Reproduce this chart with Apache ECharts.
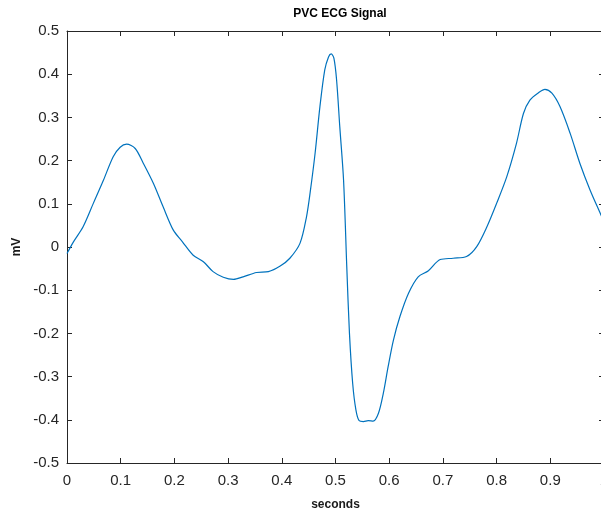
<!DOCTYPE html>
<html>
<head>
<meta charset="utf-8">
<script src="https://cdn.jsdelivr.net/npm/echarts@6/dist/echarts.min.js"></script>
<style>
html,body{margin:0;padding:0;background:#fff;}
#chart{width:601px;height:513px;}
</style>
</head>
<body>
<div id="chart"></div>
<script>
// Signal (seconds, mV)
var timeSec = [0.000,0.012,0.030,0.049,0.068,0.086,0.099,0.111,0.127,0.142,0.161,0.179,0.198,0.215,0.235,0.254,0.272,0.291,0.310,0.328,0.353,0.375,0.397,0.415,0.434,0.446,0.453,0.462,0.471,0.480,0.487,0.492,0.497,0.502,0.508,0.515,0.521,0.526,0.532,0.538,0.544,0.552,0.561,0.570,0.580,0.589,0.598,0.608,0.620,0.636,0.654,0.673,0.695,0.719,0.744,0.763,0.782,0.800,0.819,0.837,0.850,0.862,0.878,0.890,0.903,0.918,0.937,0.955,0.974,0.993,1.000];
var voltMV  = [-0.015,0.012,0.047,0.101,0.155,0.209,0.231,0.238,0.228,0.194,0.147,0.093,0.039,0.012,-0.019,-0.034,-0.057,-0.070,-0.075,-0.069,-0.059,-0.057,-0.044,-0.026,0.009,0.070,0.128,0.217,0.325,0.410,0.440,0.447,0.437,0.387,0.278,0.155,-0.046,-0.200,-0.316,-0.377,-0.402,-0.404,-0.402,-0.403,-0.385,-0.339,-0.277,-0.215,-0.161,-0.107,-0.069,-0.055,-0.029,-0.026,-0.022,0.001,0.047,0.101,0.163,0.240,0.309,0.340,0.357,0.365,0.356,0.325,0.263,0.194,0.132,0.078,0.058];
var xTicks = [0,0.1,0.2,0.3,0.4,0.5,0.6,0.7,0.8,0.9,1];
var yTicks = [-0.5,-0.4,-0.3,-0.2,-0.1,0,0.1,0.2,0.3,0.4,0.5];

var seriesData = timeSec.map(function(t,i){return [t, voltMV[i]];});
var axisCol = '#262626';
var font = 'Liberation Sans, Arial, Helvetica, sans-serif';

var chart = echarts.init(document.getElementById('chart'), null, {renderer:'canvas'});
chart.setOption({
  animation:false,
  backgroundColor:'#ffffff',
  title:{
    text:'PVC ECG Signal', left:335, top:3, textAlign:'center',
    textStyle:{fontFamily:font, fontSize:12, fontWeight:'bold', color:'#000'}
  },
  grid:{left:67, top:31, width:537, height:432, containLabel:false, outerBoundsMode:'none'},
  xAxis:[{
    type:'value', min:0, max:1, interval:0.1,
    name:'seconds', nameLocation:'middle', nameGap:36,
    nameTextStyle:{fontFamily:font, fontSize:12, fontWeight:'bold', color:'#1a1a1a'},
    axisLine:{show:true, onZero:false, lineStyle:{color:axisCol, width:1}},
    axisTick:{show:true, inside:true, length:5, lineStyle:{color:axisCol}},
    axisLabel:{fontFamily:font, fontSize:15, color:axisCol, margin:10, hideOverlap:false,
      formatter:function(v){return String(Math.round(v*10)/10);}},
    splitLine:{show:false}
  },{
    type:'value', position:'top', min:0, max:1, interval:0.1,
    axisLine:{show:true, onZero:false, lineStyle:{color:axisCol, width:1}},
    axisTick:{show:true, inside:true, length:5, lineStyle:{color:axisCol}},
    axisLabel:{show:false}, splitLine:{show:false}
  }],
  yAxis:[{
    type:'value', min:-0.5, max:0.5, interval:0.1,
    name:'mV', nameLocation:'middle', nameGap:42, nameRotate:90,
    nameTextStyle:{fontFamily:font, fontSize:12, fontWeight:'bold', color:'#1a1a1a'},
    axisLine:{show:true, onZero:false, lineStyle:{color:axisCol, width:1}},
    axisTick:{show:true, inside:true, length:5, lineStyle:{color:axisCol}},
    axisLabel:{fontFamily:font, fontSize:15, color:axisCol, margin:8,
      formatter:function(v){return String(Math.round(v*10)/10);}},
    splitLine:{show:false}
  },{
    type:'value', position:'right', min:-0.5, max:0.5, interval:0.1,
    axisLine:{show:true, onZero:false, lineStyle:{color:axisCol, width:1}},
    axisTick:{show:true, inside:true, length:5, lineStyle:{color:axisCol}},
    axisLabel:{show:false}, splitLine:{show:false}
  }],
  series:[{
    type:'line', xAxisIndex:0, yAxisIndex:0,
    data:seriesData, showSymbol:false, smooth:0.3,
    lineStyle:{color:'#0072BD', width:1.2},
    clip:true
  }]
});
</script>
</body>
</html>
